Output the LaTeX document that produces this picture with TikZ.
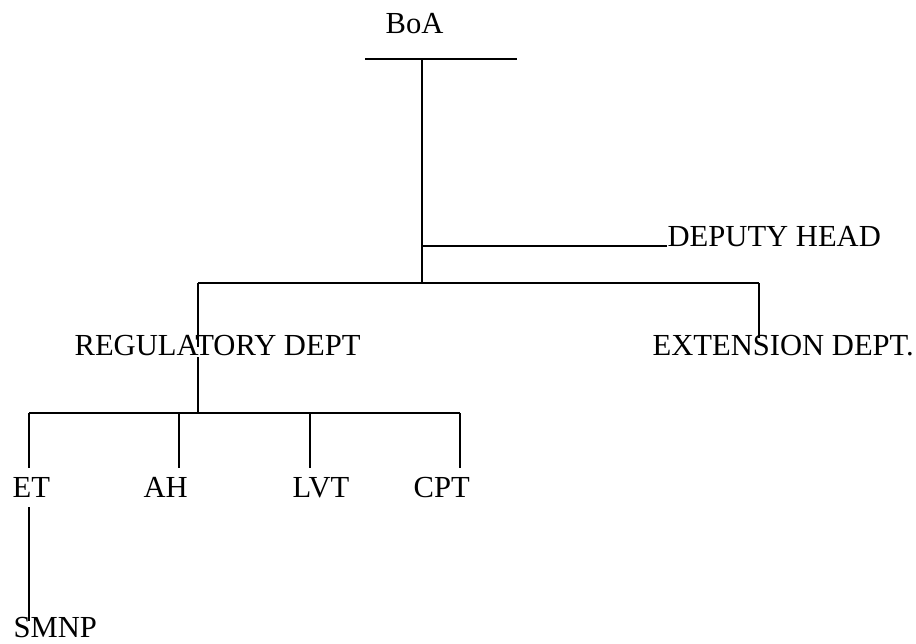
\documentclass[tikz,border=0pt]{standalone}
\usepackage{fontspec}
\setmainfont{Liberation Serif}
\begin{document}
\begin{tikzpicture}[x=1pt,y=-1pt,line width=1.2pt,
  lbl/.style={anchor=base west,inner sep=0pt,font=\fontsize{30.6}{36}\selectfont}]
\useasboundingbox[fill=white] (0,0) rectangle (916,643);
% labels
\node[lbl] (boa) at (385,33) {BoA};
\node[lbl] (dh) at (667,246) {DEPUTY HEAD};
\node[lbl] (reg) at (74,355) {REGULATORY DEPT};
\node[lbl] (ext) at (652,355) {EXTENSION DEPT.};
\node[lbl] (et) at (12,497) {ET};
\node[lbl] (ah) at (143,497) {AH};
\node[lbl] (lvt) at (292,497) {LVT};
\node[lbl] (cpt) at (413,497) {CPT};
\node[lbl] (smnp) at (13,637) {SMNP};
% junction coordinates
\coordinate (barL) at (365,59);
\coordinate (barR) at (517,59);
\coordinate (top) at (422,59);
\coordinate (dj) at (422,246);
\coordinate (hj) at (422,283);
\coordinate (hL) at (198,283);
\coordinate (hR) at (759,283);
\coordinate (regtop) at (198,347);
\coordinate (regbot) at (198,357);
\coordinate (extend) at (759,338);
\coordinate (lj) at (198,413);
\coordinate (lL) at (29,413);
\coordinate (lR) at (460,413);
\coordinate (ahj) at (179,413);
\coordinate (lvtj) at (310,413);
\coordinate (etend) at (29,468);
\coordinate (ahend) at (179,468);
\coordinate (lvtend) at (310,468);
\coordinate (cptend) at (460,468);
\coordinate (etbot) at (29,507);
\coordinate (smnpend) at (29,621);
% connectors
\draw (barL) -- (barR);
\draw (top) -- (hj);
\draw (dj) -- (dh.base west);
\draw (hL) -- (hR);
\draw (hL) -- (regtop);
\draw (regbot) -- (lj);
\draw (hR) -- (extend);
\draw (lL) -- (lR);
\draw (lL) -- (etend);
\draw (ahj) -- (ahend);
\draw (lvtj) -- (lvtend);
\draw (lR) -- (cptend);
\draw (etbot) -- (smnpend);
\end{tikzpicture}
\end{document}
